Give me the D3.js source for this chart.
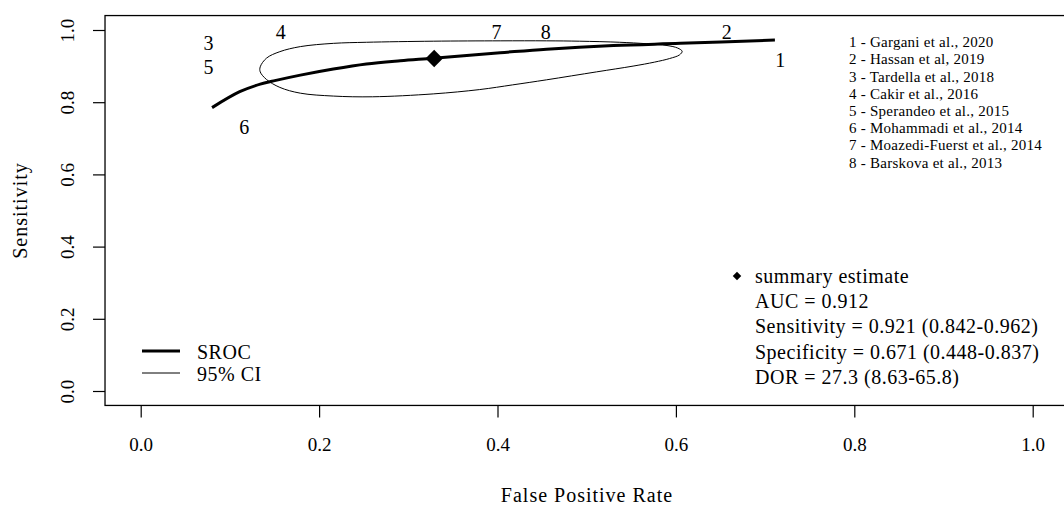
<!DOCTYPE html>
<html>
<head>
<meta charset="utf-8">
<script src="https://cdn.jsdelivr.net/npm/d3@7"></script>
<style>
  body { margin: 0; background: #fff; }
  svg { display: block; font-family: "Liberation Serif", "DejaVu Serif", serif; }
</style>
</head>
<body>
<div id="chart"></div>
<script>
const WIDTH = 1064;
const HEIGHT = 505;

// SROC curve (false positive rate, sensitivity)
const srocFpr = [0.080, 0.111, 0.134, 0.149, 0.179, 0.216, 0.253, 0.291, 0.328, 0.403, 0.455, 0.530, 0.605, 0.711];
const srocSens = [0.785, 0.829, 0.850, 0.859, 0.875, 0.892, 0.906, 0.915, 0.922, 0.937, 0.947, 0.957, 0.963, 0.972];

// 95% confidence region outline
const ciFpr = [0.134, 0.141, 0.156, 0.179, 0.216, 0.253, 0.328, 0.403, 0.455, 0.492, 0.537, 0.567, 0.590, 0.602, 0.607,
  0.604, 0.593, 0.576, 0.552, 0.511, 0.455, 0.417, 0.380, 0.328, 0.260, 0.216, 0.179, 0.156, 0.141, 0.134];
const ciSens = [0.898, 0.922, 0.940, 0.954, 0.963, 0.966, 0.969, 0.970, 0.970, 0.969, 0.966, 0.962, 0.957, 0.950, 0.941,
  0.931, 0.921, 0.911, 0.900, 0.884, 0.862, 0.848, 0.835, 0.823, 0.815, 0.817, 0.825, 0.841, 0.863, 0.884];

// summary estimate
const summaryFpr = 0.329;
const summarySens = 0.921;

// individual studies, drawn as their number
const studyLabels = ["1", "2", "3", "4", "5", "6", "7", "8"];
const studyFpr = [0.717, 0.657, 0.076, 0.157, 0.076, 0.116, 0.399, 0.454];
const studySens = [0.917, 0.995, 0.963, 0.994, 0.898, 0.732, 0.995, 0.995];

const studyNames = [
  "1 - Gargani et al., 2020",
  "2 - Hassan et al, 2019",
  "3 - Tardella et al., 2018",
  "4 - Cakir et al., 2016",
  "5 - Sperandeo et al., 2015",
  "6 - Mohammadi et al., 2014",
  "7 - Moazedi-Fuerst et al., 2014",
  "8 - Barskova et al., 2013"
];

const summaryLines = [
  "summary estimate",
  "AUC = 0.912",
  "Sensitivity = 0.921 (0.842-0.962)",
  "Specificity = 0.671 (0.448-0.837)",
  "DOR = 27.3 (8.63-65.8)"
];

const legendItems = ["SROC", "95% CI"];
const tickValues = [0, 0.2, 0.4, 0.6, 0.8, 1.0];

const svg = d3.select("#chart").append("svg")
  .attr("width", WIDTH)
  .attr("height", HEIGHT);

// R style: 4% padding around the data range
const x = d3.scaleLinear().domain([0, 1]).range([140.7, 1032.7]);
const y = d3.scaleLinear().domain([0, 1]).range([391, 30]);

// plot box
svg.append("rect")
  .attr("x", x(-0.04))
  .attr("y", y(1.04))
  .attr("width", x(1.04) - x(-0.04))
  .attr("height", y(-0.04) - y(1.04))
  .attr("fill", "none")
  .attr("stroke", "#000")
  .attr("stroke-width", 1.3);

// x axis
const xAxis = svg.append("g")
  .attr("transform", `translate(0,${y(-0.04)})`)
  .call(d3.axisBottom(x).tickValues(tickValues).tickSize(12).tickPadding(20).tickFormat(d3.format(".1f")));
xAxis.select(".domain").remove();
xAxis.selectAll("line").attr("stroke", "#000").attr("stroke-width", 1.2);
xAxis.selectAll("text")
  .attr("font-family", "Liberation Serif, serif")
  .attr("font-size", 19)
  .attr("fill", "#000");

// y axis
const yAxis = svg.append("g")
  .attr("transform", `translate(${x(-0.04)},0)`)
  .call(d3.axisLeft(y).tickValues(tickValues).tickSize(12).tickFormat(d3.format(".1f")));
yAxis.select(".domain").remove();
yAxis.selectAll("line").attr("stroke", "#000").attr("stroke-width", 1.2);
yAxis.selectAll("text")
  .attr("font-family", "Liberation Serif, serif")
  .attr("font-size", 19)
  .attr("fill", "#000")
  .attr("x", null)
  .attr("text-anchor", "middle")
  .attr("transform", "translate(-37,0) rotate(-90)")
  .attr("dy", "0.32em");

// axis titles
svg.append("text")
  .attr("x", 587)
  .attr("y", 495)
  .attr("text-anchor", "middle")
  .attr("dy", "0.35em")
  .attr("font-size", 20)
  .attr("letter-spacing", 1)
  .text("False Positive Rate");

svg.append("text")
  .attr("transform", `translate(20,${(y(0) + y(1)) / 2}) rotate(-90)`)
  .attr("text-anchor", "middle")
  .attr("dy", "0.35em")
  .attr("font-size", 20)
  .attr("letter-spacing", 1)
  .text("Sensitivity");

// confidence region
const ciPts = ciFpr.map((f, i) => [x(f), y(ciSens[i])]);
svg.append("path")
  .attr("d", d3.line().curve(d3.curveCatmullRomClosed.alpha(0.5))(ciPts))
  .attr("fill", "none")
  .attr("stroke", "#000")
  .attr("stroke-width", 1);

// SROC curve
const srocPts = srocFpr.map((f, i) => [x(f), y(srocSens[i])]);
svg.append("path")
  .attr("d", d3.line().curve(d3.curveCatmullRom)(srocPts))
  .attr("fill", "none")
  .attr("stroke", "#000")
  .attr("stroke-width", 3);

// summary diamond
svg.append("path")
  .attr("d", d3.symbol().type(d3.symbolSquare).size(150)())
  .attr("transform", `translate(${x(summaryFpr)},${y(summarySens)}) rotate(45)`)
  .attr("fill", "#000");

// study numbers
svg.append("g").selectAll("text")
  .data(studyLabels)
  .join("text")
  .attr("x", (d, i) => x(studyFpr[i]))
  .attr("y", (d, i) => y(studySens[i]))
  .attr("text-anchor", "middle")
  .attr("dy", "0.35em")
  .attr("font-size", 20)
  .text(d => d);

// study list, top right
svg.append("g").selectAll("text")
  .data(studyNames)
  .join("text")
  .attr("x", 849)
  .attr("y", (d, i) => 42 + i * 17.2)
  .attr("dy", "0.35em")
  .attr("font-size", 15)
  .attr("letter-spacing", 0.25)
  .text(d => d);

// summary legend, bottom right
svg.append("path")
  .attr("d", d3.symbol().type(d3.symbolSquare).size(36)())
  .attr("transform", "translate(737,276) rotate(45)")
  .attr("fill", "#000");
svg.append("g").selectAll("text")
  .data(summaryLines)
  .join("text")
  .attr("x", 755)
  .attr("y", (d, i) => 276 + i * 25.2)
  .attr("dy", "0.35em")
  .attr("font-size", 20)
  .attr("letter-spacing", 0.5)
  .text(d => d);

// line legend, bottom left
const lg = svg.append("g");
lg.selectAll("line")
  .data(legendItems)
  .join("line")
  .attr("x1", 142).attr("x2", 180)
  .attr("y1", (d, i) => 351 + i * 22)
  .attr("y2", (d, i) => 351 + i * 22)
  .attr("stroke", "#000")
  .attr("stroke-width", (d, i) => i === 0 ? 3 : 1);
lg.selectAll("text")
  .data(legendItems)
  .join("text")
  .attr("x", 197)
  .attr("y", (d, i) => 352 + i * 22)
  .attr("dy", "0.35em")
  .attr("font-size", 20)
  .attr("letter-spacing", 0.5)
  .text(d => d);
</script>
</body>
</html>
